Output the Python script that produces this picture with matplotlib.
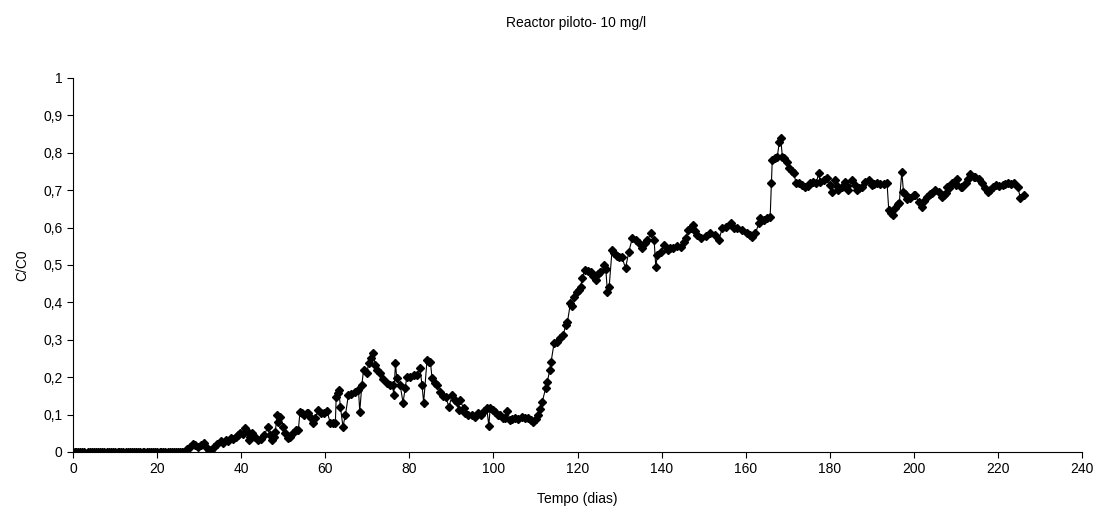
import matplotlib
matplotlib.use('Agg')
import matplotlib.pyplot as plt

plt.rcParams['font.family'] = ['Liberation Sans', 'DejaVu Sans']
plt.rcParams['font.size'] = 10

# Tempo (dias)
zero_days = [0, 0.4, 0.8, 1.2, 1.7, 2.1, 2.6, 3.5, 4, 4.5, 5, 5.4, 6, 6.5, 7, 7.5,
             8, 8.6, 9, 9.5, 10, 10.6, 11, 11.5, 12, 12.5, 13, 13.6, 14, 14.5, 15,
             15.5, 16, 16.6, 17, 17.5, 18, 18.5, 19, 19.5, 20, 20.6, 21, 21.5, 22,
             22.5, 23, 23.6, 24, 24.5, 25, 25.5, 26, 26.5]
zero_vals = [0.0] * len(zero_days)

days = [
    27.2, 27.9, 28.6, 29.1, 29.8, 30.4, 31.1, 31.7, 32.3, 32.9, 33.5, 34.3, 35.1, 35.7,
    36.3, 36.9, 37.5, 38.1, 38.7, 39.3, 39.8, 40.4, 41.0, 41.4, 41.8, 42.2, 42.6, 43.3,
    44.1, 44.8, 45.5, 46.3, 46.8, 47.3, 47.7, 48.1, 48.6, 48.8, 49.3, 50.0, 50.5, 51.2,
    51.7, 52.4, 53.1, 53.6, 54.0, 54.4, 55.0, 55.6, 56.0, 56.5, 57.0, 57.6, 58.3, 59.0,
    59.7, 60.4, 61.2, 61.8, 62.4, 62.6, 63.0, 63.2, 63.6, 64.2, 64.8, 65.5, 66.2, 67.0,
    67.9, 68.2, 68.7, 69.1, 69.9, 70.3, 70.8, 71.4, 71.9, 72.3, 73.0, 73.8, 74.7, 75.3,
    76.0, 76.3, 76.7, 77.0, 77.8, 78.5, 79.0, 79.4, 80.2, 81.0, 81.7, 82.5, 83.0, 83.4,
    84.2, 84.6, 85.0, 85.4, 86.0, 86.6, 87.4, 88.0, 88.6, 89.4, 90.2, 90.8, 91.3, 91.7,
    92.0, 92.9, 93.3, 94.0, 94.8, 95.6, 96.4, 97.0, 97.7, 98.4, 98.9, 99.2, 99.8, 100.4,
    101.0, 101.6, 102.2, 102.8, 103.3, 103.9, 104.5, 105.1, 105.8, 106.7, 107.5, 108.3,
    108.9, 109.4, 110.0, 110.6, 111.1, 111.6, 112.4, 112.8, 113.4, 113.7, 114.4, 115.0,
    115.8, 116.6, 117.2, 117.6, 118.3, 118.7, 119.1, 119.9, 120.3, 120.7, 121.1, 121.7,
    122.4, 123.1, 123.7, 124.3, 124.8, 125.4, 126.2, 126.7, 127.1, 127.5, 128.2, 128.6,
    129.3, 129.9, 130.6, 131.4, 132.2, 133.0, 133.8, 134.6, 135.4, 136.0, 136.6, 137.5,
    138.2, 138.6, 139.0, 139.8, 140.6, 141.4, 142.0, 142.6, 143.6, 144.6, 145.4, 145.8,
    146.3, 146.9, 147.5, 148.0, 148.5, 149.3, 150.5, 151.6, 152.6, 153.6, 154.4, 155.2,
    156.4, 157.2, 158.0, 159.2, 160.4, 161.0, 161.5, 162.3, 163.1, 163.5, 164.3, 165.1,
    165.8, 166.1, 166.3, 167.0, 167.5, 168.0, 168.3, 168.7, 169.2, 169.8, 170.3, 170.9,
    171.4, 172.0, 172.6, 173.3, 174.1, 174.7, 175.3, 176.1, 176.8, 177.3, 177.7, 178.5,
    179.3, 180.1, 180.5, 181.2, 181.6, 182.0, 182.8, 183.6, 184.0, 184.4, 185.2, 186.0,
    186.4, 187.0, 187.6, 188.4, 189.2, 190.0, 190.6, 191.2, 192.0, 192.8, 193.6, 194.0,
    194.5, 194.9, 195.5, 196.1, 196.5, 197.1, 197.5, 197.9, 198.3, 199.0, 199.9, 200.3,
    201.1, 201.9, 202.5, 203.1, 203.7, 204.3, 205.1, 205.9, 206.7, 207.1, 207.5, 207.9,
    208.3, 209.1, 209.9, 210.3, 211.1, 211.5, 212.3, 212.9, 213.4, 214.2, 214.6, 215.4,
    216.2, 216.9, 217.5, 218.1, 218.7, 219.5, 220.3, 221.1, 221.7, 222.3, 223.1, 223.9,
    224.7, 225.3, 226.1,
]

# C/C0
cc0 = [
    0.008, 0.014, 0.021, 0.019, 0.014, 0.018, 0.023, 0.012, 0.0, 0.006, 0.014, 0.020, 0.028, 0.025,
    0.032, 0.030, 0.037, 0.035, 0.041, 0.045, 0.050, 0.048, 0.063, 0.055, 0.032, 0.040, 0.050, 0.040,
    0.032, 0.035, 0.045, 0.066, 0.045, 0.032, 0.040, 0.054, 0.099, 0.081, 0.094, 0.068, 0.050, 0.037,
    0.041, 0.050, 0.059, 0.059, 0.108, 0.103, 0.100, 0.103, 0.103, 0.090, 0.077, 0.090, 0.112, 0.105,
    0.105, 0.110, 0.077, 0.078, 0.077, 0.148, 0.157, 0.166, 0.121, 0.068, 0.099, 0.152, 0.155, 0.160,
    0.166, 0.108, 0.179, 0.219, 0.210, 0.237, 0.250, 0.264, 0.233, 0.219, 0.210, 0.195, 0.184, 0.180,
    0.179, 0.152, 0.237, 0.197, 0.179, 0.132, 0.170, 0.201, 0.200, 0.205, 0.206, 0.224, 0.180, 0.132,
    0.246, 0.240, 0.241, 0.197, 0.185, 0.179, 0.161, 0.150, 0.148, 0.121, 0.152, 0.140, 0.134, 0.112,
    0.139, 0.117, 0.103, 0.100, 0.098, 0.094, 0.103, 0.100, 0.110, 0.117, 0.070, 0.117, 0.112, 0.108,
    0.100, 0.098, 0.092, 0.090, 0.110, 0.086, 0.088, 0.090, 0.088, 0.093, 0.092, 0.090,
    0.086, 0.081, 0.088, 0.099, 0.115, 0.134, 0.170, 0.188, 0.219, 0.241, 0.290, 0.295,
    0.305, 0.313, 0.340, 0.348, 0.398, 0.389, 0.415, 0.429, 0.433, 0.440, 0.464, 0.487,
    0.485, 0.482, 0.470, 0.460, 0.475, 0.482, 0.500, 0.490, 0.429, 0.440, 0.540, 0.531,
    0.525, 0.522, 0.520, 0.491, 0.536, 0.571, 0.567, 0.558, 0.545, 0.560, 0.567, 0.585,
    0.567, 0.495, 0.527, 0.536, 0.553, 0.540, 0.545, 0.545, 0.550, 0.549, 0.562, 0.571,
    0.594, 0.598, 0.607, 0.590, 0.580, 0.571, 0.578, 0.585, 0.580, 0.567, 0.598, 0.602,
    0.611, 0.600, 0.598, 0.594, 0.585, 0.580, 0.576, 0.585, 0.611, 0.625, 0.620, 0.625,
    0.629, 0.718, 0.781, 0.785, 0.790, 0.830, 0.839, 0.790, 0.785, 0.776, 0.759, 0.752,
    0.745, 0.718, 0.720, 0.715, 0.709, 0.712, 0.718, 0.723, 0.720, 0.745, 0.723, 0.727,
    0.732, 0.714, 0.696, 0.727, 0.710, 0.700, 0.709, 0.723, 0.710, 0.700, 0.727, 0.714,
    0.700, 0.705, 0.709, 0.723, 0.727, 0.714, 0.716, 0.718, 0.716, 0.717, 0.718, 0.647,
    0.638, 0.634, 0.651, 0.664, 0.665, 0.749, 0.696, 0.690, 0.676, 0.680, 0.687, 0.687,
    0.669, 0.656, 0.670, 0.683, 0.690, 0.692, 0.700, 0.696, 0.683, 0.687, 0.692, 0.709,
    0.705, 0.720, 0.714, 0.731, 0.709, 0.709, 0.720, 0.730, 0.743, 0.734, 0.736, 0.729,
    0.718, 0.705, 0.696, 0.700, 0.709, 0.714, 0.712, 0.714, 0.716, 0.718, 0.716, 0.718,
    0.709, 0.678, 0.687,
]

x_ticks = [0, 20, 40, 60, 80, 100, 120, 140, 160, 180, 200, 220, 240]
y_ticks = [0, 0.1, 0.2, 0.3, 0.4, 0.5, 0.6, 0.7, 0.8, 0.9, 1]
y_tick_labels = ['0', '0,1', '0,2', '0,3', '0,4', '0,5', '0,6', '0,7', '0,8', '0,9', '1']

fig = plt.figure(figsize=(10.97, 5.13), dpi=100)
ax = fig.add_axes([0.0665, 0.119, 0.92, 0.729])

ax.plot(zero_days + days, zero_vals + cc0, color='black', linewidth=0.8,
        marker='D', markersize=4.5, markerfacecolor='black', markeredgecolor='black')

ax.set_xlim(0, 240)
ax.set_ylim(0, 1)
ax.set_xticks(x_ticks)
ax.set_yticks(y_ticks)
ax.set_yticklabels(y_tick_labels)
ax.spines['top'].set_visible(False)
ax.spines['right'].set_visible(False)
ax.spines['left'].set_linewidth(0.8)
ax.spines['bottom'].set_linewidth(0.8)
ax.tick_params(direction='out', length=4, width=0.8, labelsize=10)

ax.set_xlabel('Tempo (dias)', fontsize=10, labelpad=11)
ax.set_ylabel('C/C0', fontsize=10, labelpad=10)
fig.text(0.525, 0.955, 'Reactor piloto- 10 mg/l', ha='center', va='center', fontsize=10)

fig.savefig('out.png', dpi=100, facecolor='white')
